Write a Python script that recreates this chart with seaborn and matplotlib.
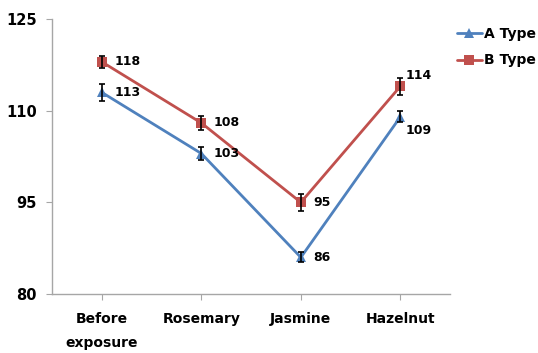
import numpy as np
import pandas as pd
import matplotlib
matplotlib.use("Agg")
import matplotlib.pyplot as plt
import seaborn as sns

# Data
categories = ["Before\nexposure", "Rosemary", "Jasmine", "Hazelnut"]
a_values = [113, 103, 86, 109]
b_values = [118, 108, 95, 114]
a_err = [1.4, 1.0, 0.8, 0.9]
b_err = [1.0, 1.1, 1.4, 1.4]
y_ticks = [80, 95, 110, 125]

blue = "#4F81BD"
red = "#C0504D"

sns.set_style("white")
plt.rcParams["font.family"] = ["DejaVu Sans"]
plt.rcParams["font.weight"] = "bold"
plt.rcParams["text.color"] = "black"

df = pd.DataFrame({
    "cat": categories * 2,
    "value": a_values + b_values,
    "type": ["A Type"] * 4 + ["B Type"] * 4,
})

fig = plt.figure(figsize=(5.38, 3.53), dpi=100)
ax = fig.add_axes([0.0967, 0.167, 0.74, 0.779])

sns.lineplot(data=df, x="cat", y="value", hue="type", style="type",
             markers={"A Type": "^", "B Type": "s"}, dashes=False,
             palette={"A Type": blue, "B Type": red},
             markersize=7, markeredgewidth=0, linewidth=2, ax=ax, sort=False)

xpos = np.arange(len(categories))
ax.errorbar(xpos, a_values, yerr=a_err, fmt="none", ecolor="black",
            elinewidth=1.2, capsize=2.5, capthick=1.2, zorder=5)
ax.errorbar(xpos, b_values, yerr=b_err, fmt="none", ecolor="black",
            elinewidth=1.2, capsize=2.5, capthick=1.2, zorder=5)

# value labels
a_offsets = [(9, 0), (9, 0), (9, 0), (4, -10)]
b_offsets = [(9, 0), (9, 0), (9, 0), (4, 8)]
for i in range(len(categories)):
    ax.annotate(str(a_values[i]), (xpos[i], a_values[i]), xytext=a_offsets[i],
                textcoords="offset points", ha="left", va="center",
                fontsize=9, fontweight="bold", color="black")
    ax.annotate(str(b_values[i]), (xpos[i], b_values[i]), xytext=b_offsets[i],
                textcoords="offset points", ha="left", va="center",
                fontsize=9, fontweight="bold", color="black")

ax.set_xlim(-0.5, 3.5)
ax.set_ylim(80, 125)
ax.set_yticks(y_ticks)
ax.set_xticks(xpos)
ax.set_xticklabels(categories, linespacing=1.9)
ax.set_xlabel("")
ax.set_ylabel("")
ax.tick_params(axis="both", length=4, color="#A6A6A6", labelcolor="black",
               direction="out", left=True, bottom=True)
ax.tick_params(axis="x", labelsize=10, pad=9)
ax.tick_params(axis="y", labelsize=10.5, pad=7)
for lab in ax.get_xticklabels() + ax.get_yticklabels():
    lab.set_fontweight("bold")

sns.despine(ax=ax)
for side in ["left", "bottom"]:
    ax.spines[side].set_color("#A6A6A6")
    ax.spines[side].set_linewidth(1)

leg = ax.legend(loc="upper left", bbox_to_anchor=(0.985, 1.017), frameon=False,
                prop={"weight": "bold", "size": 10}, handlelength=1.8,
                handletextpad=0.2, labelspacing=0.9)
for t in leg.get_texts():
    t.set_color("black")

fig.savefig("out.png", dpi=100)
